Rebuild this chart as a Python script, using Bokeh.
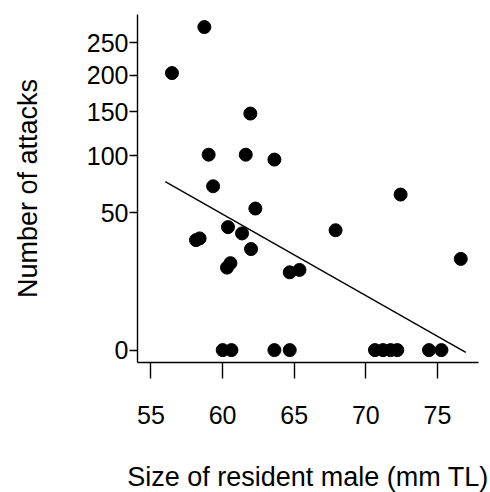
import numpy as np
from bokeh.plotting import figure
from bokeh.models import FixedTicker, Range1d
from bokeh.embed import file_html
from bokeh.resources import INLINE

# Size of resident male (mm TL) and number of attacks
male_size = [58.73, 56.47, 61.94, 59.03, 61.62, 63.62, 59.34, 62.29, 60.38, 61.36,
             61.99, 58.15, 58.40, 60.31, 60.55, 64.69, 65.37, 72.43, 67.89, 76.63,
             60.01, 60.62, 63.62, 64.69, 70.64, 71.20, 71.73, 72.20, 74.41, 75.28]
attacks = [276, 203, 148, 101, 101, 96, 71, 53, 40, 36,
           27, 32, 33, 18, 20, 16, 17, 64, 38, 22,
           0, 0, 0, 0, 0, 0, 0, 0, 0, 0]

# fitted line on sqrt scale: sqrt(attacks) = intercept + slope * size
fit_intercept = 32.096
fit_slope = -0.4185
fit_x = [56.0, 76.98]

x_ticks = [55, 60, 65, 70, 75]
y_tick_values = [0, 50, 100, 150, 200, 250]

FONT = "Liberation Sans"

y_sqrt = np.sqrt(np.array(attacks, dtype=float))
fx = np.array(fit_x)
fy = fit_intercept + fit_slope * fx

p = figure(width=490, height=490, output_backend="svg", toolbar_location=None,
           x_range=Range1d(54.063, 77.867), y_range=Range1d(-0.638, 17.26),
           min_border_left=137, min_border_right=12, min_border_top=14, min_border_bottom=128)
p.frame_width = 341
p.frame_height = 348

p.line(fx, fy, line_color="black", line_width=1.4)
p.scatter(male_size, y_sqrt, size=13, fill_color="black", line_color="black")

p.grid.visible = False
p.outline_line_color = None
p.background_fill_color = "white"
p.border_fill_color = "white"

xa = p.xaxis[0]
xa.ticker = FixedTicker(ticks=x_ticks)
xa.minor_tick_line_color = None
xa.major_tick_out = 16
xa.major_tick_in = 0
xa.axis_line_width = 1.4
xa.major_tick_line_width = 1.4
xa.axis_line_color = "black"
xa.major_tick_line_color = "black"
xa.major_label_text_font = FONT
xa.major_label_text_font_size = "25px"
xa.major_label_text_color = "black"
xa.major_label_standoff = 27
xa.axis_label = "Size of resident male (mm TL)"
xa.axis_label_text_font = FONT
xa.axis_label_text_font_size = "27px"
xa.axis_label_text_font_style = "normal"
xa.axis_label_text_color = "black"
xa.axis_label_standoff = 35

ya = p.yaxis[0]
ya.ticker = FixedTicker(ticks=[float(np.sqrt(v)) for v in y_tick_values])
ya.major_label_overrides = {float(np.sqrt(v)): str(v) for v in y_tick_values}
ya.minor_tick_line_color = None
ya.major_tick_out = 8
ya.major_tick_in = 0
ya.axis_line_width = 1.4
ya.major_tick_line_width = 1.4
ya.axis_line_color = "black"
ya.major_tick_line_color = "black"
ya.major_label_text_font = FONT
ya.major_label_text_font_size = "25px"
ya.major_label_text_color = "black"
ya.major_label_standoff = 1
ya.axis_label = "Number of attacks"
ya.axis_label_text_font = FONT
ya.axis_label_text_font_size = "27px"
ya.axis_label_text_font_style = "normal"
ya.axis_label_text_color = "black"
ya.axis_label_standoff = 41

open("out.html", "w").write(file_html(p, INLINE))
